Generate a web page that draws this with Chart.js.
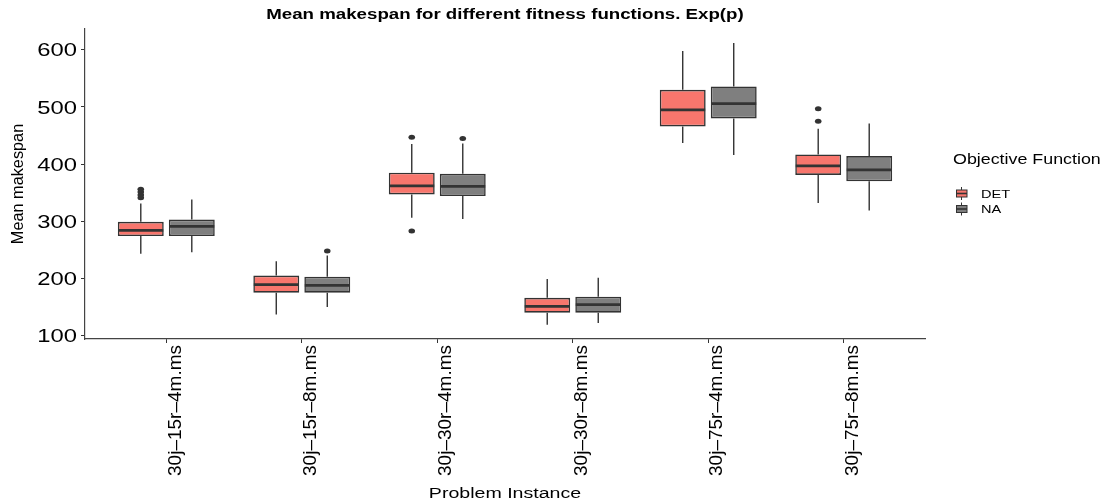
<!DOCTYPE html>
<html>
<head>
<meta charset="utf-8">
<title>Mean makespan</title>
<script src="https://cdn.jsdelivr.net/npm/chart.js@4/dist/chart.umd.min.js"></script>
<style>
  html, body { margin: 0; padding: 0; background: #fff; }
  #chart { display: block; }
</style>
</head>
<body>
<canvas id="chart" width="1111" height="501"></canvas>
<script>
// Problem instances (x axis)
const categories = ['30j–15r–4m.ms', '30j–15r–8m.ms', '30j–30r–4m.ms', '30j–30r–8m.ms', '30j–75r–4m.ms', '30j–75r–8m.ms'];
const yTicks = [100, 200, 300, 400, 500, 600];

// DET objective function: five-number summaries + outliers
const detLow  = [243, 137, 306, 119, 437, 332];
const detQ1   = [274, 175, 347, 140, 466, 381];
const detMed  = [284, 189, 362, 151, 495, 397];
const detQ3   = [299, 205, 385, 166, 530, 417];
const detHigh = [331, 230, 435, 199, 598, 462];
const detOut  = [[341, 346, 351, 356], [], [447, 283], [], [], [475, 497]];

// NA objective function
const naLow  = [246, 150, 304, 122, 416, 319];
const naQ1   = [274, 175, 344, 140, 480, 370];
const naMed  = [291, 188, 361, 154, 506, 390];
const naQ3   = [303, 203, 383, 168, 536, 414];
const naHigh = [338, 240, 436, 201, 612, 471];
const naOut  = [[], [248], [445], [], [], []];

const FONT = '"Liberation Sans", Arial, Helvetica, sans-serif';
const INK = '#333333';
const SX = 1.28; // horizontal text is drawn slightly wide

const series = [
    { label: 'DET', color: '#F8766D', low: detLow, q1: detQ1, med: detMed, q3: detQ3, high: detHigh, out: detOut },
    { label: 'NA', color: '#7F7F7F', low: naLow, q1: naQ1, med: naMed, q3: naQ3, high: naHigh, out: naOut }
];

function wideText(ctx, text, x, y, align, sx) {
    ctx.save();
    ctx.translate(x, y);
    ctx.scale(sx, 1);
    ctx.textAlign = align;
    ctx.textBaseline = 'alphabetic';
    ctx.fillText(text, 0, 0);
    ctx.restore();
}

// Whiskers behind the boxes, medians / outliers / labels on top
const boxplotPlugin = {
    id: 'boxplot',
    beforeDatasetsDraw(chart) {
        const ctx = chart.ctx;
        const y = chart.scales.y;
        ctx.save();
        ctx.strokeStyle = INK;
        ctx.lineWidth = 1.4;
        series.forEach((s, di) => {
            chart.getDatasetMeta(di).data.forEach((bar, i) => {
                ctx.beginPath();
                ctx.moveTo(bar.x, y.getPixelForValue(s.high[i]));
                ctx.lineTo(bar.x, y.getPixelForValue(s.q3[i]));
                ctx.moveTo(bar.x, y.getPixelForValue(s.q1[i]));
                ctx.lineTo(bar.x, y.getPixelForValue(s.low[i]));
                ctx.stroke();
            });
        });
        ctx.restore();
    },
    afterDatasetsDraw(chart) {
        const ctx = chart.ctx;
        const y = chart.scales.y;
        ctx.save();
        series.forEach((s, di) => {
            chart.getDatasetMeta(di).data.forEach((bar, i) => {
                const half = bar.width / 2;
                const my = y.getPixelForValue(s.med[i]);
                ctx.strokeStyle = INK;
                ctx.lineWidth = 2.8;
                ctx.beginPath();
                ctx.moveTo(bar.x - half + 0.5, my);
                ctx.lineTo(bar.x + half - 0.5, my);
                ctx.stroke();
                ctx.fillStyle = INK;
                s.out[i].forEach(v => {
                    ctx.beginPath();
                    ctx.ellipse(bar.x, y.getPixelForValue(v), 3.3, 2.5, 0, 0, Math.PI * 2);
                    ctx.fill();
                });
            });
        });
        ctx.restore();
    },
    afterDraw(chart) {
        const ctx = chart.ctx;
        const area = chart.chartArea;
        const y = chart.scales.y;
        const midX = (area.left + area.right) / 2;
        ctx.save();
        ctx.fillStyle = '#000';

        // y tick labels
        ctx.font = '18.6px ' + FONT;
        y.ticks.forEach(t => {
            wideText(ctx, String(t.value), area.left - 8, y.getPixelForValue(t.value) + 6.6, 'right', SX);
        });

        // title
        ctx.font = 'bold 14.6px ' + FONT;
        wideText(ctx, 'Mean makespan for different fitness functions. Exp(p)', midX, 19, 'center', SX);

        // x title
        ctx.font = '15.3px ' + FONT;
        wideText(ctx, 'Problem Instance', midX, 498, 'center', SX);

        // y title
        ctx.save();
        ctx.font = '16.3px ' + FONT;
        ctx.translate(19, (area.top + area.bottom) / 2);
        ctx.rotate(-Math.PI / 2);
        ctx.textAlign = 'center';
        ctx.textBaseline = 'middle';
        ctx.fillText('Mean makespan', 0, 0);
        ctx.restore();

        // legend
        ctx.font = '14.4px ' + FONT;
        wideText(ctx, 'Objective Function', 953, 164, 'left', 1.24);
        ctx.font = '11.4px ' + FONT;
        series.forEach((s, i) => {
            const cy = 193.5 + i * 15.5;
            const kx = 956.5;
            ctx.strokeStyle = INK;
            ctx.lineWidth = 1;
            ctx.beginPath();
            ctx.moveTo(kx + 5, cy - 6.5);
            ctx.lineTo(kx + 5, cy + 6.5);
            ctx.stroke();
            ctx.fillStyle = s.color;
            ctx.fillRect(kx, cy - 3.5, 10.5, 7);
            ctx.strokeRect(kx, cy - 3.5, 10.5, 7);
            ctx.lineWidth = 1.6;
            ctx.beginPath();
            ctx.moveTo(kx, cy);
            ctx.lineTo(kx + 10.5, cy);
            ctx.stroke();
            ctx.fillStyle = '#000';
            wideText(ctx, s.label, 981, cy + 4.1, 'left', SX);
        });
        ctx.restore();
    }
};

new Chart(document.getElementById('chart'), {
    type: 'bar',
    data: {
        datasets: series.map(s => ({
            label: s.label,
            data: s.q1.map((v, i) => ({ x: i, y: [v, s.q3[i]] })),
            backgroundColor: s.color,
            borderColor: INK,
            borderWidth: 1.6,
            borderSkipped: false,
            categoryPercentage: 0.753,
            barPercentage: 0.9
        }))
    },
    options: {
        responsive: false,
        animation: false,
        layout: { padding: { top: 29, right: 186, left: 0, bottom: 0 } },
        plugins: {
            legend: { display: false },
            tooltip: { enabled: false },
            title: { display: false }
        },
        scales: {
            x: {
                type: 'linear',
                min: -0.6,
                max: 5.6,
                offset: false,
                afterBuildTicks: axis => { axis.ticks = categories.map((_, i) => ({ value: i })); },
                afterFit: axis => { axis.height = 162; },
                grid: { offset: false, drawOnChartArea: false, drawTicks: true, tickLength: 4, color: INK },
                border: { display: true, color: '#444', width: 1.2 },
                ticks: {
                    autoSkip: false,
                    minRotation: 90,
                    maxRotation: 90,
                    labelOffset: 9,
                    padding: 2,
                    color: '#000',
                    font: { family: FONT, size: 19 },
                    callback: v => categories[v]
                }
            },
            y: {
                min: 94,
                max: 636.4,
                afterBuildTicks: axis => { axis.ticks = yTicks.map(v => ({ value: v })); },
                afterFit: axis => { axis.width = 85; },
                grid: { drawOnChartArea: false, drawTicks: true, tickLength: 4, color: INK },
                border: { display: true, color: '#444', width: 1.2 },
                ticks: { display: false }
            }
        }
    },
    plugins: [boxplotPlugin]
});
</script>
</body>
</html>
